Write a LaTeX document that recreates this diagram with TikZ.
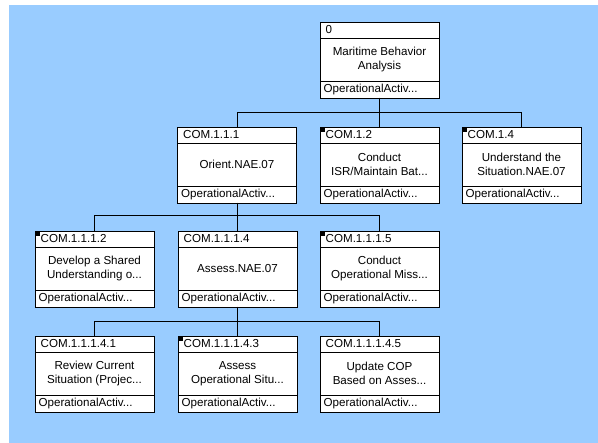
\documentclass[tikz,border=0pt]{standalone}
\usepackage{fontspec}
\setmainfont{Liberation Sans}
\usetikzlibrary{calc}
\definecolor{bgblue}{RGB}{153,204,255}
\tikzset{
  actbox/.style={draw=black, fill=white, line width=0.8pt, minimum width=119pt, minimum height=76pt, inner sep=0pt, outer sep=0pt},
  divider/.style={draw=black, line width=0.6pt},
  hdr/.style={anchor=west, inner sep=0pt, font=\fontsize{11.6}{13}\selectfont},
  body/.style={align=center, inner sep=0pt, font=\fontsize{11.6}{14}\selectfont},
  link/.style={draw=black, line width=0.8pt},
  marker/.style={fill=black, minimum size=5pt, inner sep=0pt, anchor=north west},
}
\newcommand{\actbox}[6]{%
  \node[actbox, anchor=north] (#1) at (#2,#3) {};
  \draw[divider] ($(#1.north west)+(0,16)$) -- ($(#1.north east)+(0,16)$);
  \draw[divider] ($(#1.north west)+(0,59)$) -- ($(#1.north east)+(0,59)$);
  \node[hdr] (#1-id) at ($(#1.north west)+(5.5,8)$) {#4};
  \node[body] (#1-txt) at ($(#1.north)+(0,37.5)$) {#5};
  \node[hdr] (#1-ty) at ($(#1.north west)+(3.5,67.5)$) {OperationalActiv...};
  \ifx\relax#6\relax\else\node[marker] (#1-m) at (#1.north west) {};\fi
}
\begin{document}
\begin{tikzpicture}[x=1pt,y=-1pt]
\useasboundingbox (0,0) rectangle (598,443);
\fill[bgblue] (9,5) rectangle (598,443);
% level 1
\actbox{n0}{379.5}{22}{0}{Maritime Behavior\\Analysis}{}
% level 2
\actbox{n111}{237}{127}{COM.1.1.1}{Orient.NAE.07}{}
\actbox{n12}{379.5}{127}{COM.1.2}{Conduct\\ISR/Maintain Bat...}{m}
\actbox{n14}{521.5}{127}{COM.1.4}{Understand the\\Situation.NAE.07}{m}
% level 3
\actbox{n1112}{94.5}{231}{COM.1.1.1.2}{Develop a Shared\\Understanding o...}{m}
\actbox{n1114}{237.5}{231}{COM.1.1.1.4}{Assess.NAE.07}{}
\actbox{n1115}{379.5}{231}{COM.1.1.1.5}{Conduct\\Operational Miss...}{m}
% level 4
\actbox{n11141}{94.5}{336}{COM.1.1.1.4.1}{Review Current\\Situation (Projec...}{}
\actbox{n11143}{237.5}{336}{COM.1.1.1.4.3}{Assess\\Operational Situ...}{m}
\actbox{n11145}{379.5}{336}{COM.1.1.1.4.5}{Update COP\\Based on Asses...}{}
% connectors
\foreach \c in {n111,n12,n14} \draw[link] (n0.south) -- ++(0,14) -| (\c.north);
\foreach \c in {n1112,n1114,n1115} \draw[link] (n111.south) -- ++(0,12) -| (\c.north);
\foreach \c in {n11141,n11143,n11145} \draw[link] (n1114.south) -- ++(0,14) -| (\c.north);
\end{tikzpicture}
\end{document}
